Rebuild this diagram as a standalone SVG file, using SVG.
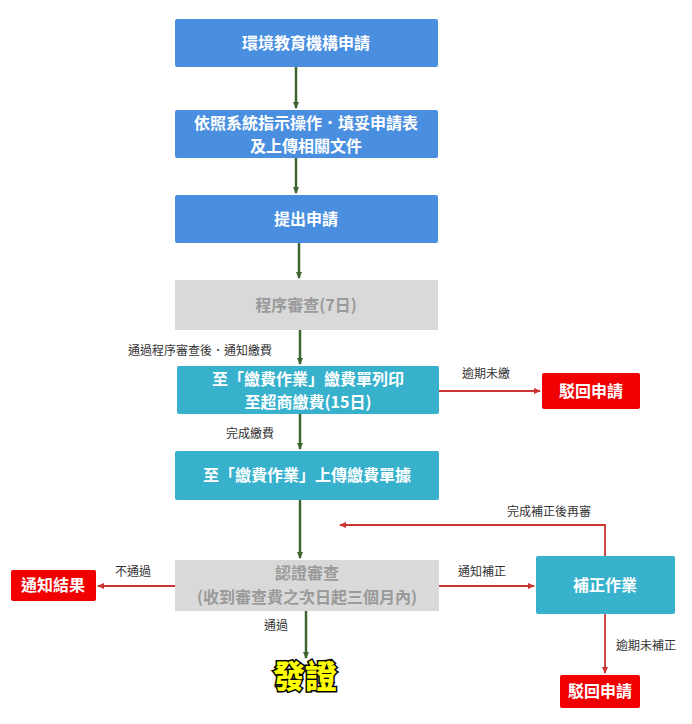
<svg xmlns="http://www.w3.org/2000/svg" width="692" height="724" viewBox="0 0 692 724">
<style>
text{font-family:"Noto Sans CJK TC","Noto Sans CJK SC",sans-serif;text-anchor:middle}
.b{fill:#4a8fdf}.t{fill:#37b1cc}.g{fill:#d9d9d9}.r{fill:#f00000}
.w{fill:#fff;font-size:16px;font-weight:bold}
.gt{fill:#9a9a9a;font-size:16px;font-weight:bold}
.l{fill:#333;font-size:12px}
.gl{stroke:#3d6530;stroke-width:2.5;fill:none}
.rl{stroke:#cc3333;stroke-width:1.8;fill:none}
</style>
<defs>
<marker id="ag" markerWidth="8" markerHeight="8" refX="6" refY="4" orient="auto" markerUnits="userSpaceOnUse"><path d="M0,1 L7,4 L0,7z" fill="#3d6530"/></marker>
<marker id="ar" markerWidth="8" markerHeight="8" refX="6" refY="4" orient="auto" markerUnits="userSpaceOnUse"><path d="M0,1 L7,4 L0,7z" fill="#cc3333"/></marker>
</defs>
<rect width="692" height="724" fill="#fff"/>
<g id="connectors">
<path class="gl" d="M296 67V108" marker-end="url(#ag)"/>
<path class="gl" d="M296 158V193" marker-end="url(#ag)"/>
<path class="gl" d="M299 243V278" marker-end="url(#ag)"/>
<path class="gl" d="M300 330V364" marker-end="url(#ag)"/>
<path class="gl" d="M300 414V449" marker-end="url(#ag)"/>
<path class="gl" d="M300 500V558" marker-end="url(#ag)"/>
<path class="gl" d="M306 611V658" marker-end="url(#ag)"/>
<path class="rl" d="M439 391H540" marker-end="url(#ar)"/>
<path class="rl" d="M439 586H534" marker-end="url(#ar)"/>
<path class="rl" d="M175 586H98" marker-end="url(#ar)"/>
<path class="rl" d="M605 556V525H340" marker-end="url(#ar)"/>
<path class="rl" d="M605 614V673" marker-end="url(#ar)"/>
<text class="l" x="200" y="355">通過程序審查後．通知繳費</text>
<text class="l" x="486" y="378">逾期未繳</text>
<text class="l" x="250" y="438">完成繳費</text>
<text class="l" x="549" y="516">完成補正後再審</text>
<text class="l" x="133" y="576">不通過</text>
<text class="l" x="482" y="576">通知補正</text>
<text class="l" x="276" y="630">通過</text>
<text class="l" x="646" y="650">逾期未補正</text>
</g>
<g id="n1"><rect class="b" x="175" y="19" width="263" height="48" rx="2"/><text class="w" x="306" y="49">環境教育機構申請</text></g>
<g id="n2"><rect class="b" x="175" y="110" width="263" height="48" rx="2"/><text class="w" x="306" y="129" font-size="15.5">依照系統指示操作．填妥申請表</text><text class="w" x="306" y="152" font-size="15.5">及上傳相關文件</text></g>
<g id="n3"><rect class="b" x="175" y="195" width="263" height="48" rx="2"/><text class="w" x="306" y="225">提出申請</text></g>
<g id="n4"><rect class="g" x="175" y="280" width="263" height="50"/><text class="gt" x="306" y="311">程序審查(7日)</text></g>
<g id="n5"><rect class="t" x="177" y="366" width="262" height="48" rx="2"/><text class="w" x="308" y="385">至「繳費作業」繳費單列印</text><text class="w" x="308" y="408">至超商繳費(15日)</text></g>
<g id="n6"><rect class="r" x="542" y="373" width="98" height="36" rx="2"/><text class="w" x="591" y="397">駁回申請</text></g>
<g id="n7"><rect class="t" x="175" y="451" width="264" height="49" rx="2"/><text class="w" x="307" y="481">至「繳費作業」上傳繳費單據</text></g>
<g id="n8"><rect class="g" x="175" y="560" width="264" height="51"/><text class="gt" x="307" y="579">認證審查</text><text class="gt" x="307" y="603">(收到審查費之次日起三個月內)</text></g>
<g id="n9"><rect class="t" x="536" y="556" width="139" height="58" rx="2"/><text class="w" x="605" y="591">補正作業</text></g>
<g id="n10"><rect class="r" x="11" y="570" width="85" height="31" rx="2"/><text class="w" x="53" y="591">通知結果</text></g>
<g id="n11"><text x="305" y="688" style="font-size:32px;font-weight:900;fill:#ffff00;stroke:#000;stroke-width:3;paint-order:stroke">發證</text></g>
<g id="n12"><rect class="r" x="560" y="675" width="80" height="33" rx="2"/><text class="w" x="600" y="697">駁回申請</text></g>
</svg>
